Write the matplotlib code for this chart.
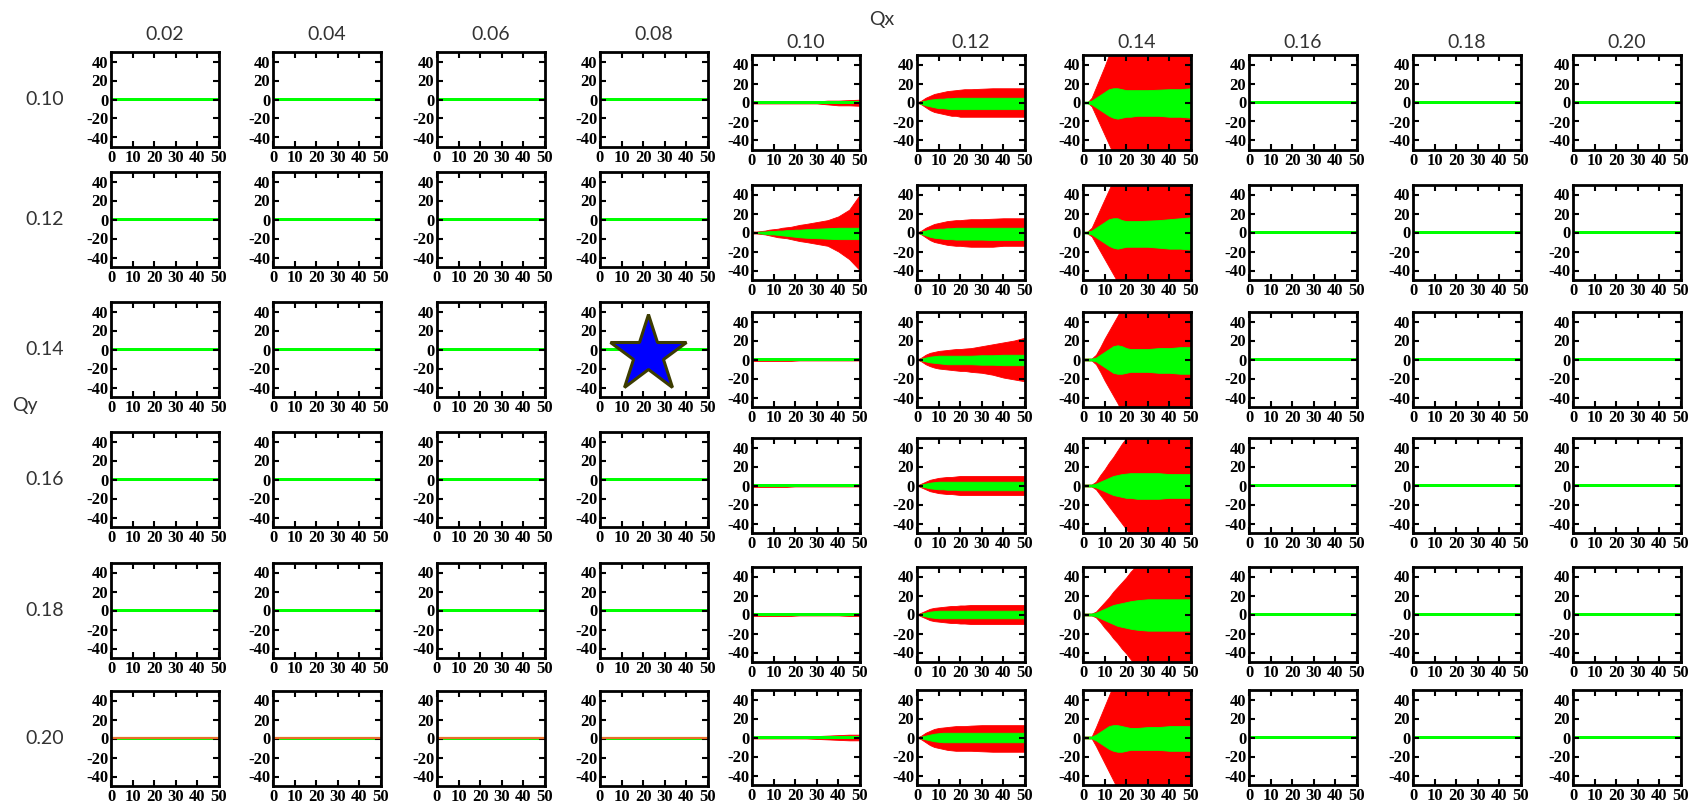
import matplotlib
matplotlib.use("Agg")
import matplotlib.pyplot as plt

plt.rcParams["font.family"] = ["Liberation Serif", "DejaVu Serif"]
plt.rcParams["axes.unicode_minus"] = False

# ----------------------
# Grid labels
# ----------------------
qx_values = ["0.02", "0.04", "0.06", "0.08", "0.10", "0.12", "0.14", "0.16", "0.18", "0.20"]
qy_values = ["0.10", "0.12", "0.14", "0.16", "0.18", "0.20"]

x_ticks = [0, 10, 20, 30, 40, 50]
y_ticks = [-40, -20, 0, 20, 40]

turns = [0, 2, 4, 6, 8, 10, 12, 14, 16, 18, 20, 22, 25, 30, 35, 40, 45, 50]

# ----------------------
# Envelopes of the unstable / active cases (keyed by (Qx, Qy))
# ----------------------
red_hi = {
    ("0.10", "0.10"): [1, 1, 1, 1, 1, 1, 1, 1, 1, 1, 1, 1, 1, 1, 2, 2, 2.5, 3],
    ("0.12", "0.10"): [0, 2, 5, 7, 9, 10, 11, 12, 12.5, 13, 13.5, 14, 14, 14.5, 15, 15, 15, 15],
    ("0.14", "0.10"): [0, 0, 5, 16, 27, 38, 50, 60, 60, 60, 60, 60, 60, 60, 60, 60, 60, 60],
    ("0.10", "0.12"): [1, 1, 1.5, 2, 3, 3.5, 4, 5, 5.5, 6, 7, 8, 9, 11, 13, 17, 24, 40],
    ("0.12", "0.12"): [0, 2, 5, 7, 9, 10, 11, 12, 12.5, 13, 13, 13.5, 14, 14, 14.5, 15, 15, 15],
    ("0.14", "0.12"): [0, 1, 5, 15, 25, 35, 45, 55, 60, 60, 60, 60, 60, 60, 60, 60, 60, 60],
    ("0.10", "0.14"): [1.5, 1.5, 1.5, 1.5, 1.5, 1.5, 1.5, 1.5, 1.5, 1.5, 1.2, 1, 1, 1, 1, 1, 1, 1],
    ("0.12", "0.14"): [0, 2, 5, 7, 8, 9, 9.5, 10, 10.5, 11, 11, 11.5, 12, 14, 16, 18, 20, 23],
    ("0.14", "0.14"): [1, 1, 1, 5, 13, 22, 30, 38, 46, 55, 60, 60, 60, 60, 60, 60, 60, 60],
    ("0.10", "0.16"): [1.5, 1.5, 1.5, 1.5, 1.5, 1.5, 1.5, 1.5, 1.5, 1.2, 1, 1, 1, 1, 1, 1, 1, 1],
    ("0.12", "0.16"): [0, 2, 4, 6, 7, 8, 8.5, 9, 9, 9.5, 10, 10, 10, 10, 10, 10, 10, 10],
    ("0.14", "0.16"): [1, 1, 1, 4, 11, 17, 24, 30, 37, 44, 50, 57, 60, 60, 60, 60, 60, 60],
    ("0.10", "0.18"): [1.5, 1.5, 1.5, 1.5, 1.5, 1.5, 1.5, 1.5, 1.5, 1.5, 1.2, 1, 1, 1, 1, 1, 1.5, 1.5],
    ("0.12", "0.18"): [0, 2, 4, 6, 7, 7.5, 8, 8.5, 9, 9, 9.5, 9.5, 10, 10, 10, 10, 10, 10],
    ("0.14", "0.18"): [1, 1, 1, 3, 8, 13, 18, 24, 29, 34, 39, 45, 52, 60, 60, 60, 60, 60],
    ("0.10", "0.20"): [1, 1, 1, 1, 1, 1, 1, 1, 1, 1, 1, 1, 1, 1.5, 2, 2.5, 3, 3],
    ("0.12", "0.20"): [0, 2, 5, 7, 9, 10, 10.5, 11, 11.5, 12, 12, 12, 12.5, 13, 13, 13, 13, 13],
    ("0.14", "0.20"): [1, 1, 1, 11, 22, 33, 44, 55, 60, 60, 60, 60, 60, 60, 60, 60, 60, 60],
}
red_lo = {
    ("0.10", "0.10"): [-1, -1, -1, -1, -1, -1, -1, -1, -1, -1, -1, -1, -1, -1, -2, -3, -3, -3.5],
    ("0.12", "0.10"): [0, -2, -5, -8, -10, -11, -12, -13, -14, -14, -15, -15, -15, -15, -15, -15, -15, -15],
    ("0.14", "0.10"): [0, 0, -4, -14, -24, -34, -44, -54, -60, -60, -60, -60, -60, -60, -60, -60, -60, -60],
    ("0.10", "0.12"): [-1, -1, -1.5, -2, -3, -4, -5, -5.5, -6, -7, -8, -9, -10, -12, -14, -20, -28, -40],
    ("0.12", "0.12"): [0, -2, -5, -8, -10, -11, -12, -13, -13.5, -14, -14, -14.5, -15, -15, -15, -14, -14, -14],
    ("0.14", "0.12"): [0, -1, -4, -12, -20, -28, -36, -44, -52, -60, -60, -60, -60, -60, -60, -60, -60, -60],
    ("0.10", "0.14"): [-1.5, -1.5, -1.5, -1.5, -1.5, -1.5, -1.5, -1.5, -1.5, -1.5, -1.2, -1, -1, -1, -1, -1, -1, -1],
    ("0.12", "0.14"): [0, -2, -5, -7, -8.5, -9.5, -10, -10.5, -11, -11.5, -12, -12, -13, -14, -16, -19, -21, -23],
    ("0.14", "0.14"): [-1, -1, -1, -5, -13, -22, -30, -38, -46, -55, -60, -60, -60, -60, -60, -60, -60, -60],
    ("0.10", "0.16"): [-1.5, -1.5, -1.5, -1.5, -1.5, -1.5, -1.5, -1.5, -1.5, -1.2, -1, -1, -1, -1, -1, -1, -1, -1],
    ("0.12", "0.16"): [0, -2, -4, -6, -7, -8, -8.5, -9, -9, -9.5, -10, -10, -10, -10, -10, -10, -10, -10],
    ("0.14", "0.16"): [-1, -1, -1, -4, -10, -16, -22, -28, -34, -40, -46, -52, -60, -60, -60, -60, -60, -60],
    ("0.10", "0.18"): [-1.5, -1.5, -1.5, -1.5, -1.5, -1.5, -1.5, -1.5, -1.5, -1.5, -1.2, -1, -1, -1, -1, -1, -1.5, -1.5],
    ("0.12", "0.18"): [0, -2, -4, -6, -7, -7.5, -8, -8.5, -9, -9, -9.5, -9.5, -10, -10, -10, -10, -10, -10],
    ("0.14", "0.18"): [-1, -1, -1, -3, -8, -14, -19, -25, -30, -36, -41, -47, -55, -60, -60, -60, -60, -60],
    ("0.10", "0.20"): [-1, -1, -1, -1, -1, -1, -1, -1, -1, -1, -1, -1, -1, -1.5, -2, -2.5, -3, -3],
    ("0.12", "0.20"): [0, -2, -5, -8, -10, -11, -12, -13, -13.5, -14, -14, -14, -14, -14.5, -15, -15, -15, -15],
    ("0.14", "0.20"): [-1, -1, -1, -9, -18, -27, -36, -45, -54, -60, -60, -60, -60, -60, -60, -60, -60, -60],
}
green_hi = {
    ("0.12", "0.10"): [0, 1, 2, 3, 3.5, 4, 4, 4.5, 4.5, 5, 5, 5, 5, 5, 5, 5, 5, 5],
    ("0.14", "0.10"): [1, 1, 2, 5, 8, 11, 14, 15, 15, 14, 13, 13, 13, 13, 13.5, 14, 14, 15],
    ("0.10", "0.12"): [1, 0.5, 1, 1, 1.5, 1.5, 2, 2, 2.5, 2.5, 3, 3, 3.5, 4, 4.5, 5, 5, 5],
    ("0.12", "0.12"): [0, 1, 2, 3, 3.5, 4, 4, 4.5, 4.5, 5, 5, 5, 5, 5, 5, 5, 5, 5],
    ("0.14", "0.12"): [1, 1, 2, 5, 8, 11, 14, 15, 15, 13, 12, 12, 12, 12.5, 13, 14, 15, 16],
    ("0.12", "0.14"): [0, 1, 2, 3, 3.5, 4, 4, 4, 4, 4, 4, 4, 4, 4.5, 4.5, 5, 5, 5],
    ("0.14", "0.14"): [1, 1, 1, 2, 5, 8, 11, 14, 15, 14, 12, 11, 11, 11, 12, 12, 13, 13],
    ("0.12", "0.16"): [0, 1, 2, 3, 3.5, 4, 4, 4, 4, 4, 4, 4, 4, 4, 4, 4, 4, 4],
    ("0.14", "0.16"): [1, 1, 1, 2, 4, 6, 8, 10, 11, 12, 12.5, 13, 13, 13, 13, 12, 12, 12],
    ("0.12", "0.18"): [0, 1, 2, 3, 3.5, 4, 4, 4, 4, 4, 4, 4, 4, 4, 4, 4, 4, 4],
    ("0.14", "0.18"): [1, 1, 1, 2, 4, 6, 8, 10, 11, 12, 13, 14, 15, 16, 16, 16, 16, 16],
    ("0.12", "0.20"): [0, 1, 2, 3, 4, 4.5, 5, 5, 5, 5, 5, 5, 5, 5, 5, 5, 5, 5],
    ("0.14", "0.20"): [1, 1, 1, 3, 6, 9, 12, 13, 13, 12, 11, 10, 10, 11, 11, 12, 12, 12],
}
green_lo = {
    ("0.12", "0.10"): [0, -1.5, -3, -4, -5, -6, -6, -6.5, -7, -7, -7, -7, -7, -7, -7, -7, -7, -7],
    ("0.14", "0.10"): [-1, -1, -2, -5, -8, -11, -14, -16, -17, -16, -15, -15, -14, -14, -14, -15, -15, -16],
    ("0.10", "0.12"): [-1, -0.5, -1, -1.5, -2, -2, -2.5, -3, -3.5, -4, -4.5, -5, -5.5, -6, -6.5, -7, -7, -7],
    ("0.12", "0.12"): [0, -1.5, -3, -4.5, -5.5, -6, -6.5, -7, -7, -7.5, -7.5, -7.5, -7.5, -7.5, -8, -8, -8, -8],
    ("0.14", "0.12"): [-1, -1, -2, -5, -8, -11, -14, -16, -17, -16, -15, -15, -15, -15, -16, -17, -17, -18],
    ("0.12", "0.14"): [0, -1, -2, -3, -3.5, -4, -4.5, -5, -5, -5, -5, -5, -5, -5.5, -5.5, -6, -6, -6],
    ("0.14", "0.14"): [-1, -1, -1, -2, -5, -8, -11, -14, -15, -15, -14, -13, -13, -13, -14, -14, -15, -15],
    ("0.12", "0.16"): [0, -1, -2, -3, -3.5, -4, -4, -4.5, -4.5, -4.5, -5, -5, -5, -5, -5, -5, -5, -5],
    ("0.14", "0.16"): [-1, -1, -1, -2, -4, -6, -8, -10, -11, -12, -13, -13, -14, -14, -14, -13, -13, -13],
    ("0.12", "0.18"): [0, -1, -2, -3, -3.5, -4, -4, -4, -4, -4, -4, -4, -4, -4, -4, -4, -4, -4],
    ("0.14", "0.18"): [-1, -1, -1, -2, -4, -6, -8, -10, -12, -13, -14, -15, -16, -17, -17, -17, -17, -17],
    ("0.12", "0.20"): [0, -1, -2, -3, -4, -4.5, -5, -5, -5, -5, -5, -5, -5, -5, -5, -5, -5, -5],
    ("0.14", "0.20"): [-1, -1, -1, -3, -6, -9, -12, -14, -15, -15, -14, -13, -13, -13, -13, -14, -14, -14],
}

# stable panels where the red trace shows on top of the green one
reddish_rows = {"0.20": ["0.02", "0.04", "0.06", "0.08"]}

# the chosen working point
star_panel = ("0.08", "0.14")
star_pos = (22, -5)

# ----------------------
# Panel layout (pixels of the 1695x811 image)
# ----------------------
W, H = 1695, 811
col_left = [111, 273, 437, 600, 752, 917, 1083, 1249, 1413, 1573]
row_top_left = [52, 172, 302, 432, 563, 691]
row_top_right = [55, 185, 312, 438, 567, 690]
pw, ph = 108, 95

RED = "#ff0000"
GREEN = "#00ff00"
label_font = ["Lato", "DejaVu Sans"]
tick_font = ["Liberation Serif", "DejaVu Serif"]

fig = plt.figure(figsize=(W / 100, H / 100), dpi=100)

for ci, qx in enumerate(qx_values):
    right_group = ci >= 4
    tops = row_top_right if right_group else row_top_left
    for ri, qy in enumerate(qy_values):
        left = col_left[ci]
        top = tops[ri]
        ax = fig.add_axes([left / W, 1 - (top + ph) / H, pw / W, ph / H])
        key = (qx, qy)

        if key in red_hi:
            ax.fill_between(turns, red_lo[key], red_hi[key], color=RED, lw=0.6, ec=RED)
        if key in green_hi:
            ax.fill_between(turns, green_lo[key], green_hi[key], color=GREEN, lw=0.6, ec=GREEN)
        else:
            band = 2.0 if right_group else 1.6
            ax.fill_between([0, 50], [-band, -band], [band, band], color=GREEN, lw=0)
        if qx in reddish_rows.get(qy, []):
            ax.plot([0, 50], [0.6, 0.6], color="#e8702a", lw=1.6)

        if key == star_panel:
            ax.plot(*star_pos, marker="*", ms=58, mfc="#0000ff", mec="#3c3c00", mew=2.2)

        ax.set_xlim(0, 50)
        ax.set_ylim(-50, 50)
        ax.set_xticks(x_ticks)
        ax.set_yticks(y_ticks)
        ax.set_xticklabels([str(t) for t in x_ticks], fontsize=12, fontweight="bold",
                           family=tick_font)
        ax.set_yticklabels([str(t) for t in y_ticks], fontsize=12, fontweight="bold",
                           family=tick_font)
        ax.tick_params(direction="in", length=4, width=1.5, top=True, right=True, pad=2)
        for sp in ax.spines.values():
            sp.set_linewidth(2)

        if ri == 0:
            ty = 43 if right_group else 34
            fig.text((left + pw / 2) / W, 1 - ty / H, qx, ha="center", va="center",
                     fontsize=14, color="#333333", family=label_font)
        if ci == 0:
            fig.text(45 / W, 1 - (top + ph / 2) / H, qy, ha="center", va="center",
                     fontsize=14, color="#333333", family=label_font)

fig.text(882 / W, 1 - 19 / H, "Qx", ha="center", va="center", fontsize=14,
         color="#333333", family=label_font)
fig.text(25 / W, 1 - 405 / H, "Qy", ha="center", va="center", fontsize=14,
         color="#333333", family=label_font)

fig.savefig("out.png", dpi=100)
plt.close(fig)
